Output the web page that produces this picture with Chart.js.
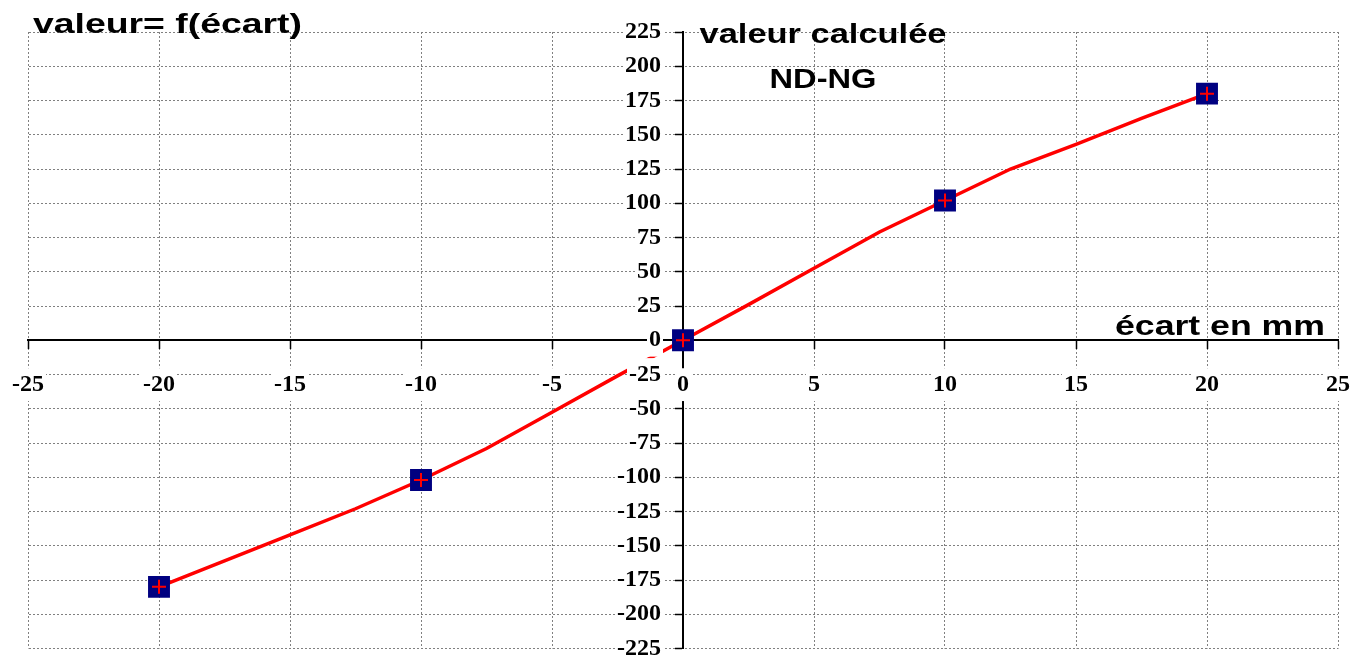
<!DOCTYPE html>
<html lang="fr">
<head>
<meta charset="UTF-8" />
<title>valeur = f(écart)</title>
<script src="https://cdn.jsdelivr.net/npm/chart.js"></script>
<style>
  html, body { margin: 0; background: #fff; overflow: hidden; }
  #wrap { width: 1363px; height: 664px; position: relative; }
</style>
</head>
<body>
<div id="wrap"><canvas id="chart"></canvas></div>
<script>
// mesures (écart en mm -> valeur calculée ND-NG)
const ecartMesure = [-20, -10, 0, 10, 20];
const valeurMesure = [-180, -102, 0, 102, 180];

// courbe tracée en rouge
const ecartCourbe = [-20, -17.5, -15, -12.5, -10, -7.5, -5, -2.5, 0, 2.5, 5, 7.5, 10, 12.5, 15, 17.5, 20];
const valeurCourbe = [-180, -161, -142, -123, -102, -79, -52.5, -26, 0, 26, 52.5, 79, 102, 125, 143, 162, 180];

const xTicks = [-25, -20, -15, -10, -5, 0, 5, 10, 15, 20, 25];
const yTicks = [-225, -200, -175, -150, -125, -100, -75, -50, -25, 0, 25, 50, 75, 100, 125, 150, 175, 200, 225];

const pts = (xs, ys) => xs.map((x, i) => ({ x: x, y: ys[i] }));

// titles drawn on top, a bit stretched like the original
const titles = [
  { text: 'valeur= f(écart)', x: 33, y: 33, w: 269, align: 'left' },
  { text: 'valeur calculée', x: 823, y: 43, w: 247, align: 'center' },
  { text: 'ND-NG', x: 823, y: 88, w: 107, align: 'center' },
  { text: 'écart en mm', x: 1325, y: 335, w: 210, align: 'right' }
];

const titlePlugin = {
  id: 'titles',
  afterDraw(chart) {
    const ctx = chart.ctx;
    ctx.save();
    ctx.font = 'bold 28px "Liberation Sans", Arial, sans-serif';
    ctx.fillStyle = '#000';
    ctx.textBaseline = 'alphabetic';
    titles.forEach(t => {
      const mw = ctx.measureText(t.text).width;
      const s = t.w / mw;
      let left = t.x;
      if (t.align === 'center') left = t.x - t.w / 2;
      if (t.align === 'right') left = t.x - t.w;
      ctx.save();
      ctx.translate(left, t.y);
      ctx.scale(s, 1);
      ctx.textAlign = 'left';
      ctx.fillText(t.text, 0, 0);
      ctx.restore();
    });
    ctx.restore();
  }
};

const whiteBg = {
  id: 'whiteBg',
  beforeDraw(chart) {
    const ctx = chart.ctx;
    ctx.save();
    ctx.fillStyle = '#fff';
    ctx.fillRect(0, 0, chart.width, chart.height);
    ctx.restore();
  }
};

// move the y axis box onto x = 0 once the layout is done
const centreY = {
  id: 'centreY',
  afterLayout(chart) {
    const y = chart.scales.y;
    const x0 = chart.scales.x.getPixelForValue(0);
    y.right = x0;
    y.left = x0 - 110;
    y.width = 110;
  }
};

const noSpace = s => {
  if (s.isHorizontal()) s.height = 0; else s.width = 0;
  s.paddingTop = 0; s.paddingBottom = 0; s.paddingLeft = 0; s.paddingRight = 0;
};

const tickFont = { family: '"Liberation Serif", "Times New Roman", serif', size: 24, weight: 'bold' };

new Chart(document.getElementById('chart'), {
  type: 'scatter',
  data: {
    datasets: [
      {
        label: 'croix',
        data: pts(ecartMesure, valeurMesure),
        pointStyle: 'cross',
        pointRadius: 7,
        borderColor: '#ff0000',
        borderWidth: 2,
        showLine: false,
        order: 0
      },
      {
        label: 'mesures',
        data: pts(ecartMesure, valeurMesure),
        pointStyle: 'rect',
        pointRadius: 15.5,
        backgroundColor: '#000080',
        borderColor: '#000080',
        borderWidth: 0,
        showLine: false,
        order: 1
      },
      {
        label: 'courbe',
        data: pts(ecartCourbe, valeurCourbe),
        showLine: true,
        borderColor: '#ff0000',
        borderWidth: 3.5,
        pointRadius: 0,
        tension: 0,
        order: 2
      }
    ]
  },
  options: {
    responsive: true,
    maintainAspectRatio: false,
    animation: false,
    layout: { padding: { left: 28, right: 25, top: 32, bottom: 8 } },
    plugins: {
      legend: { display: false },
      tooltip: { enabled: false },
      title: { display: false }
    },
    scales: {
      x: {
        type: 'linear',
        position: { y: 0 },
        min: -25,
        max: 25,
        afterBuildTicks: s => { s.ticks = xTicks.map(v => ({ value: v })); },
        afterFit: noSpace,
        grid: {
          color: '#808080',
          lineWidth: 1,
          tickColor: '#000',
          tickLength: 8,
          tickWidth: 1.5
        },
        border: { color: '#000', width: 2, dash: [2, 2] },
        ticks: {
          autoSkip: false,
          maxRotation: 0,
          padding: 22,
          color: '#000',
          font: tickFont,
          showLabelBackdrop: true,
          backdropColor: '#fff',
          backdropPadding: 2,
          z: 1
        }
      },
      y: {
        type: 'linear',
        position: 'left',
        min: -225,
        max: 225,
        afterBuildTicks: s => { s.ticks = yTicks.map(v => ({ value: v })); },
        afterFit: noSpace,
        grid: {
          color: '#808080',
          lineWidth: 1,
          tickColor: '#000',
          tickLength: 8,
          tickWidth: 1.5
        },
        border: { color: '#000', width: 2, dash: [2, 2] },
        ticks: {
          autoSkip: false,
          padding: 14,
          color: '#000',
          font: tickFont,
          showLabelBackdrop: true,
          backdropColor: '#fff',
          backdropPadding: 2,
          z: 1
        }
      }
    }
  },
  plugins: [whiteBg, centreY, titlePlugin]
});
</script>
</body>
</html>
